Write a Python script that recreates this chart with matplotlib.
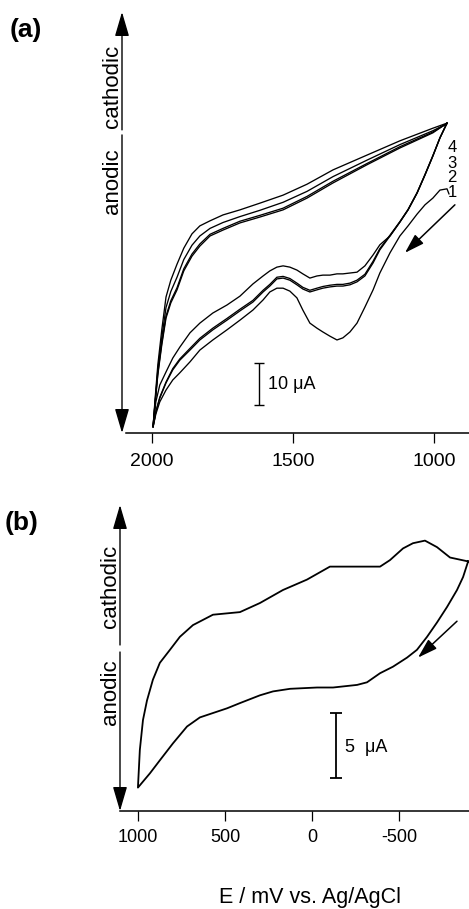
import numpy as np
import matplotlib
matplotlib.use('Agg')
from matplotlib import pyplot as plt

plt.rcParams['font.family'] = ['Liberation Sans', 'DejaVu Sans']

# ---- panel (a): four CV cycles, E in mV, I in uA (arbitrary zero)
E_up_a = [1996, 1989, 1979, 1965, 1950, 1933, 1911, 1887, 1858, 1830, 1794,
          1748, 1688, 1617, 1535, 1450, 1358, 1238, 1121, 1004, 954]
E_down_a = [954, 979, 1004, 1032, 1060, 1092, 1121, 1156, 1192, 1216,
            1245, 1273, 1298, 1323, 1344, 1369, 1394, 1415, 1440, 1465,
            1486, 1511, 1535, 1557, 1582, 1606, 1642, 1688, 1734, 1784,
            1830, 1865, 1901, 1926, 1950, 1972, 1986, 1996]
E_start_1 = [947]

I_down_1 = [56.8, 58.0, 57.7, 55.8, 54.2, 52.0, 49.2, 46.8, 42.8, 38.0, 34.0,
            29.9, 26.1, 24.0, 22.6, 22.1, 23.0, 24.0, 24.9, 26.1, 29.2,
            32.1, 33.7, 34.4, 34.4, 33.5, 31.6, 29.2, 26.8, 24.5, 22.1,
            19.7, 16.9, 14.3, 12.6, 10.2, 7.4, 4.5, 1.4]
I_down_2 = [73.6, 70.1, 65.8, 61.3, 57.0, 53.0, 50.1, 46.8, 43.5, 40.4,
            37.3, 35.9, 35.2, 34.9, 34.9, 34.7, 34.4, 34.0, 33.5, 34.2,
            35.2, 36.3, 36.8, 36.6, 34.9, 33.5, 31.1, 29.0, 26.8, 24.5,
            22.1, 19.7, 17.3, 15.0, 11.9, 8.3, 5.0, 1.4]
I_down_3 = [73.6, 70.1, 65.9, 61.4, 57.1, 53.1, 50.2, 47.0, 43.8, 40.8,
            37.7, 36.3, 35.6, 35.3, 35.3, 35.1, 34.8, 34.4, 33.9, 34.6,
            35.6, 36.7, 37.2, 37.0, 35.3, 33.9, 31.5, 29.4, 27.2, 24.9,
            22.5, 20.1, 17.6, 15.3, 12.1, 8.5, 5.1, 1.4]
I_down_4 = [73.6, 70.1, 65.8, 61.3, 57.0, 53.0, 50.1, 46.8, 44.7, 42.3,
            39.7, 38.2, 38.0, 37.8, 37.8, 37.5, 37.5, 37.3, 36.8, 37.8,
            38.7, 39.4, 39.7, 39.4, 38.5, 37.3, 35.4, 32.5, 30.4, 28.5,
            26.1, 23.8, 20.4, 17.8, 14.5, 11.4, 7.4, 1.4]

I_up_1 = [1.4, 6.7, 13.8, 20.9, 27.3, 30.9, 34.0, 38.5, 42.0, 44.4, 46.8,
          48.2, 49.9, 51.3, 53.0, 55.8, 59.4, 63.7, 67.7, 71.3, 73.6]
I_up_2 = [1.4, 6.9, 14.2, 21.4, 27.8, 31.4, 34.5, 39.0, 42.5, 44.9, 47.2,
          48.6, 50.3, 51.7, 53.4, 56.2, 59.8, 64.0, 68.0, 71.5, 73.5]
I_up_3 = [1.4, 7.2, 15.0, 22.7, 29.8, 33.6, 37.0, 41.2, 44.6, 46.8, 48.6,
          50.0, 51.4, 52.9, 54.8, 57.4, 60.9, 64.8, 68.5, 71.8, 73.5]
I_up_4 = [1.4, 7.8, 16.2, 24.5, 32.3, 36.3, 40.1, 43.9, 47.3, 49.2, 50.4,
          51.8, 53.0, 54.6, 56.5, 59.1, 62.5, 66.0, 69.4, 72.4, 73.6]

cycle_labels = ['4', '3', '2', '1']
cycle_label_I = [67.7, 64.1, 60.8, 57.2]
ticks_a = [2000, 1500, 1000]

# ---- panel (b): single CV
E_b = [-897, -868, -833, -776, -718, -661, -603, -546, -465, -391,
       -316, -259, -121, -29, 126, 224, 299, 414, 488, 644,
       718, 799, 874, 931, 1000,
       989, 971, 948, 914, 874, 816, 759, 684, 569, 414,
       299, 167, 29, -103, -391, -448, -523, -580, -649, -718,
       -793, -897]
I_b = [19.2, 18.0, 17.0, 15.7, 14.5, 13.4, 12.4, 11.8, 11.1, 10.6,
       9.9, 9.7, 9.5, 9.5, 9.4, 9.2, 8.9, 8.3, 7.9, 7.2,
       6.5, 5.2, 3.9, 2.9, 1.8,
       4.7, 7.0, 8.5, 10.1, 11.4, 12.4, 13.4, 14.3, 15.1, 15.3,
       16.0, 17.0, 17.8, 18.8, 18.8, 19.3, 20.2, 20.6, 20.8, 20.3,
       19.5, 19.2]
ticks_b = [1000, 500, 0, -500]

W, H = 469, 909
fig = plt.figure(figsize=(W / 100, H / 100), dpi=100)


def px(x, y):
    return x / W, 1 - y / H


def style_axes(ax, ticks, lsize, pad):
    for s in ['left', 'top', 'right']:
        ax.spines[s].set_visible(False)
    ax.spines['bottom'].set_linewidth(1.1)
    ax.set_yticks([])
    ax.set_xticks(ticks)
    ax.set_xticklabels([str(t) for t in ticks])
    ax.tick_params(axis='x', direction='out', length=7.2, width=0.9,
                   labelsize=lsize, pad=pad)
    ax.patch.set_alpha(0)


def y_arrow(ax, gap_lo, gap_hi):
    ap = dict(arrowstyle='-|>,head_length=0.75,head_width=0.22', color='k',
              lw=1.0, shrinkA=0, shrinkB=0, mutation_scale=20)
    ax.annotate('', xy=(0, 1), xytext=(0, gap_hi), xycoords='axes fraction',
                arrowprops=ap, annotation_clip=False)
    ax.annotate('', xy=(0, 0), xytext=(0, gap_lo), xycoords='axes fraction',
                arrowprops=ap, annotation_clip=False)


def dir_arrow(ax, start, tip):
    ax.annotate('', xy=tip, xytext=start,
                arrowprops=dict(arrowstyle='-|>,head_length=0.8,head_width=0.25',
                                color='k', lw=1.1, shrinkA=0, shrinkB=0,
                                mutation_scale=15))


# panel (a)
ax1 = fig.add_axes([122 / W, 1 - 433 / H, 347 / W, 421 / H])
for Id, Iu, Ed in [(I_down_1, I_up_1, E_start_1 + E_down_a),
                   (I_down_2, I_up_2, E_down_a),
                   (I_down_3, I_up_3, E_down_a),
                   (I_down_4, I_up_4, E_down_a)]:
    ax1.plot(Ed + E_up_a, Id + Iu, color='k', lw=0.95)
ax1.set_xlim(2106, 876)
ax1.set_ylim(0, 100)
ax1.spines['bottom'].set_bounds(2092, 876)
style_axes(ax1, ticks_a, 14, 7)
y_arrow(ax1, 0.708, 0.720)
for lab, yi in zip(cycle_labels, cycle_label_I):
    ax1.text(936, yi, lab, fontsize=12, ha='center', va='center')
dir_arrow(ax1, (926, 54.2), (1103, 42.8))
ax1.errorbar([1621], [11.65], yerr=[5.0], color='k', lw=1.0, capsize=3.6,
             capthick=1.0)
ax1.text(1589, 11.6, '10 \u03bcA', fontsize=13, ha='left', va='center')

# panel (b)
ax2 = fig.add_axes([120 / W, 1 - 811 / H, 349 / W, 306 / H])
ax2.plot(E_b, I_b, color='k', lw=1.3)
ax2.set_xlim(1103, -902)
ax2.set_ylim(0, 23.54)
style_axes(ax2, ticks_b, 13, 6)
y_arrow(ax2, 0.5196, 0.5425)
dir_arrow(ax2, (-833, 14.6), (-609, 11.8))
ax2.errorbar([-138], [5.04], yerr=[2.5], color='k', lw=1.3, capsize=4.5,
             capthick=1.3)
ax2.text(-190, 4.9, '5  \u03bcA', fontsize=13, ha='left', va='center')

# panel letters, y-arrow words, x label
fig.text(*px(10, 30), '(a)', fontsize=19, fontweight='bold', ha='left', va='center')
fig.text(*px(5, 523), '(b)', fontsize=19, fontweight='bold', ha='left', va='center')
fig.text(*px(112, 86), 'cathodic', fontsize=16, rotation=90, ha='center', va='center')
fig.text(*px(112, 181), 'anodic', fontsize=16, rotation=90, ha='center', va='center')
fig.text(*px(110, 586), 'cathodic', fontsize=16, rotation=90, ha='center', va='center')
fig.text(*px(110, 692), 'anodic', fontsize=16, rotation=90, ha='center', va='center')
fig.text(*px(310, 908), 'E / mV vs. Ag/AgCl', fontsize=15.5, ha='center', va='bottom')

fig.savefig('out.png', dpi=100)
